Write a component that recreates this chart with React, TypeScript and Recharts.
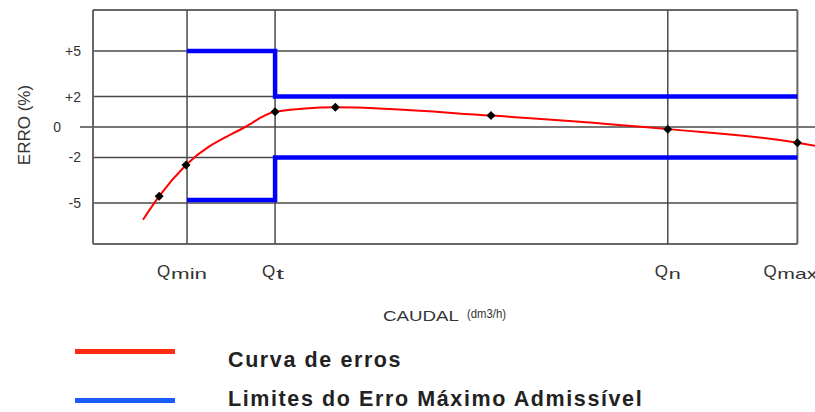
import React from "react";
import {
  ComposedChart,
  Line,
  Scatter,
  XAxis,
  YAxis,
  ReferenceLine,
} from "recharts";

// flow positions on a schematic axis (Qmax = 100)
const QMIN = 13.35;
const QT = 25.85;
const QN = 81.6;
const QMAX = 100;
const X_END = 102.5;
const Y_TOP = 7.7;

const flowTicks = [QMIN, QT, QN, QMAX];
const flowLabels = [
  { main: "Q", sub: "min", dx: -30, len: 36 },
  { main: "Q", sub: "t", dx: -13, len: 8 },
  { main: "Q", sub: "n", dx: -13, len: 12 },
  { main: "Q", sub: "max", dx: -34, len: 40 },
];

const errorTicks = [5, 2, 0, -2, -5];
const errorTickLabels = ["+5", "+2", "0", "-2", "-5"];

// red error curve
const curveX = [7.1, 9.4, 13.2, 21.6, 25.85, 34.4, 56.5, 81.6, 100, 102.5];
const curveY = [-6.1, -4.55, -2.5, 0, 1.0, 1.3, 0.75, -0.14, -1.03, -1.24];

// measured points (black markers)
const markerX = [9.4, 13.2, 25.85, 34.4, 56.5, 81.6, 100];
const markerY = [-4.55, -2.5, 1.0, 1.3, 0.75, -0.14, -1.03];

// maximum permissible error limits
const upperX = [QMIN, QT, QT, QMAX];
const upperY = [5, 5, 2, 2];
const lowerX = [QMIN, QT, QT, QMAX];
const lowerY = [-4.8, -4.8, -2, -2];

const curveData = curveX.map((x, i) => ({ x, y: curveY[i] }));
const markerData = markerX.map((x, i) => ({ x, y: markerY[i] }));
const upperData = upperX.map((x, i) => ({ x, y: upperY[i] }));
const lowerData = lowerX.map((x, i) => ({ x, y: lowerY[i] }));

const GRID = "#4a4a4a";
const FONT = "'Liberation Sans', Arial, sans-serif";

const YTick = (props: any) => {
  const { y, payload } = props;
  const idx = errorTicks.indexOf(payload.value);
  const label = errorTickLabels[idx];
  const isZero = payload.value === 0;
  return (
    <text
      x={isZero ? 61 : 81}
      y={y + 5}
      textAnchor="end"
      fontSize={14}
      fontFamily={FONT}
      fill="#333"
    >
      {label}
    </text>
  );
};

const XTick = (props: any) => {
  const { x, payload } = props;
  const idx = flowTicks.indexOf(payload.value);
  const l = flowLabels[idx];
  if (!l) return null;
  return (
    <g>
      <text x={x + l.dx} y={277} fontFamily={FONT} fill="#333" fontSize={17}>
        {l.main}
      </text>
      <text
        x={x + l.dx + 14}
        y={279}
        fontFamily={FONT}
        fill="#333"
        fontSize={15}
        textLength={l.len}
        lengthAdjust="spacingAndGlyphs"
      >
        {l.sub}
      </text>
    </g>
  );
};

const Diamond = (props: any) => {
  const { cx, cy } = props;
  return (
    <path
      d={`M${cx},${cy - 4.5} L${cx + 4.5},${cy} L${cx},${cy + 4.5} L${cx - 4.5},${cy} Z`}
      fill="#000"
    />
  );
};

const gridY = [5, 2, -2, -5, Y_TOP, -Y_TOP];
const gridX = [0, QMIN, QT, QN, QMAX];

const legendItems = [
  { label: "Curva de erros", color: "#ff2a10", top: 349, textTop: 348 },
  { label: "Limites do Erro Máximo Admissível", color: "#1a5cff", top: 398, textTop: 387 },
];

export default function App() {
  return (
    <div style={{ position: "absolute", left: 0, top: 0, width: 815, height: 412, background: "#fff" }}>
      <ComposedChart
        width={815}
        height={412}
        margin={{ top: 10, right: 0, bottom: 138, left: 0 }}
      >
        <XAxis
          type="number"
          dataKey="x"
          domain={[0, X_END]}
          ticks={flowTicks}
          interval={0}
          axisLine={false}
          tickLine={false}
          height={30}
          tick={<XTick />}
          label={{
            content: () => (
              <g fontFamily={FONT} fill="#333">
                <text x={383} y={321} fontSize={14} textLength={76} lengthAdjust="spacingAndGlyphs">
                  CAUDAL
                </text>
                <text x={467} y={318} fontSize={13} textLength={39} lengthAdjust="spacingAndGlyphs">
                  (dm3/h)
                </text>
              </g>
            ),
          }}
        />
        <YAxis
          type="number"
          dataKey="y"
          domain={[-Y_TOP, Y_TOP]}
          ticks={errorTicks}
          interval={0}
          width={93}
          axisLine={false}
          tickLine={false}
          tick={<YTick />}
          label={{
            content: () => (
              <text
                x={30}
                y={125}
                transform="rotate(-90 30 125)"
                textAnchor="middle"
                fontSize={17}
                fontFamily={FONT}
                fill="#333"
              >
                ERRO (%)
              </text>
            ),
          }}
        />
        {gridY.map((v) => (
          <ReferenceLine
            key={`gy${v}`}
            segment={[
              { x: 0, y: v },
              { x: QMAX, y: v },
            ]}
            stroke={Math.abs(v) === Y_TOP ? "#666" : GRID}
            strokeWidth={Math.abs(v) === Y_TOP ? 2 : 1.5}
            ifOverflow="visible"
          />
        ))}
        <ReferenceLine
          segment={[
            { x: -1.85, y: 0 },
            { x: X_END, y: 0 },
          ]}
          stroke={GRID}
          strokeWidth={1.5}
          ifOverflow="visible"
        />
        {gridX.map((v) => (
          <ReferenceLine
            key={`gx${v}`}
            segment={[
              { x: v, y: -Y_TOP },
              { x: v, y: Y_TOP },
            ]}
            stroke={v === 0 || v === QMAX ? "#666" : GRID}
            strokeWidth={v === 0 || v === QMAX ? 2 : 1.5}
            ifOverflow="visible"
          />
        ))}
        <Line
          data={upperData}
          dataKey="y"
          type="linear"
          stroke="#0000ff"
          strokeWidth={4.5}
          dot={false}
          isAnimationActive={false}
        />
        <Line
          data={lowerData}
          dataKey="y"
          type="linear"
          stroke="#0000ff"
          strokeWidth={4.5}
          dot={false}
          isAnimationActive={false}
        />
        <Line
          data={curveData}
          dataKey="y"
          type="monotone"
          stroke="#ff0000"
          strokeWidth={2}
          dot={false}
          isAnimationActive={false}
        />
        <Scatter data={markerData} dataKey="y" shape={<Diamond />} isAnimationActive={false} />
      </ComposedChart>
      {legendItems.map((item) => (
        <React.Fragment key={item.label}>
          <div
            style={{
              position: "absolute",
              left: 75,
              top: item.top,
              width: 100,
              height: 5,
              background: item.color,
            }}
          />
          <div
            style={{
              position: "absolute",
              left: 228,
              top: item.textTop,
              fontFamily: FONT,
              fontWeight: "bold",
              fontSize: 21.5,
              letterSpacing: 1.6,
              color: "#222",
              whiteSpace: "nowrap",
              lineHeight: "24px",
            }}
          >
            {item.label}
          </div>
        </React.Fragment>
      ))}
    </div>
  );
}
